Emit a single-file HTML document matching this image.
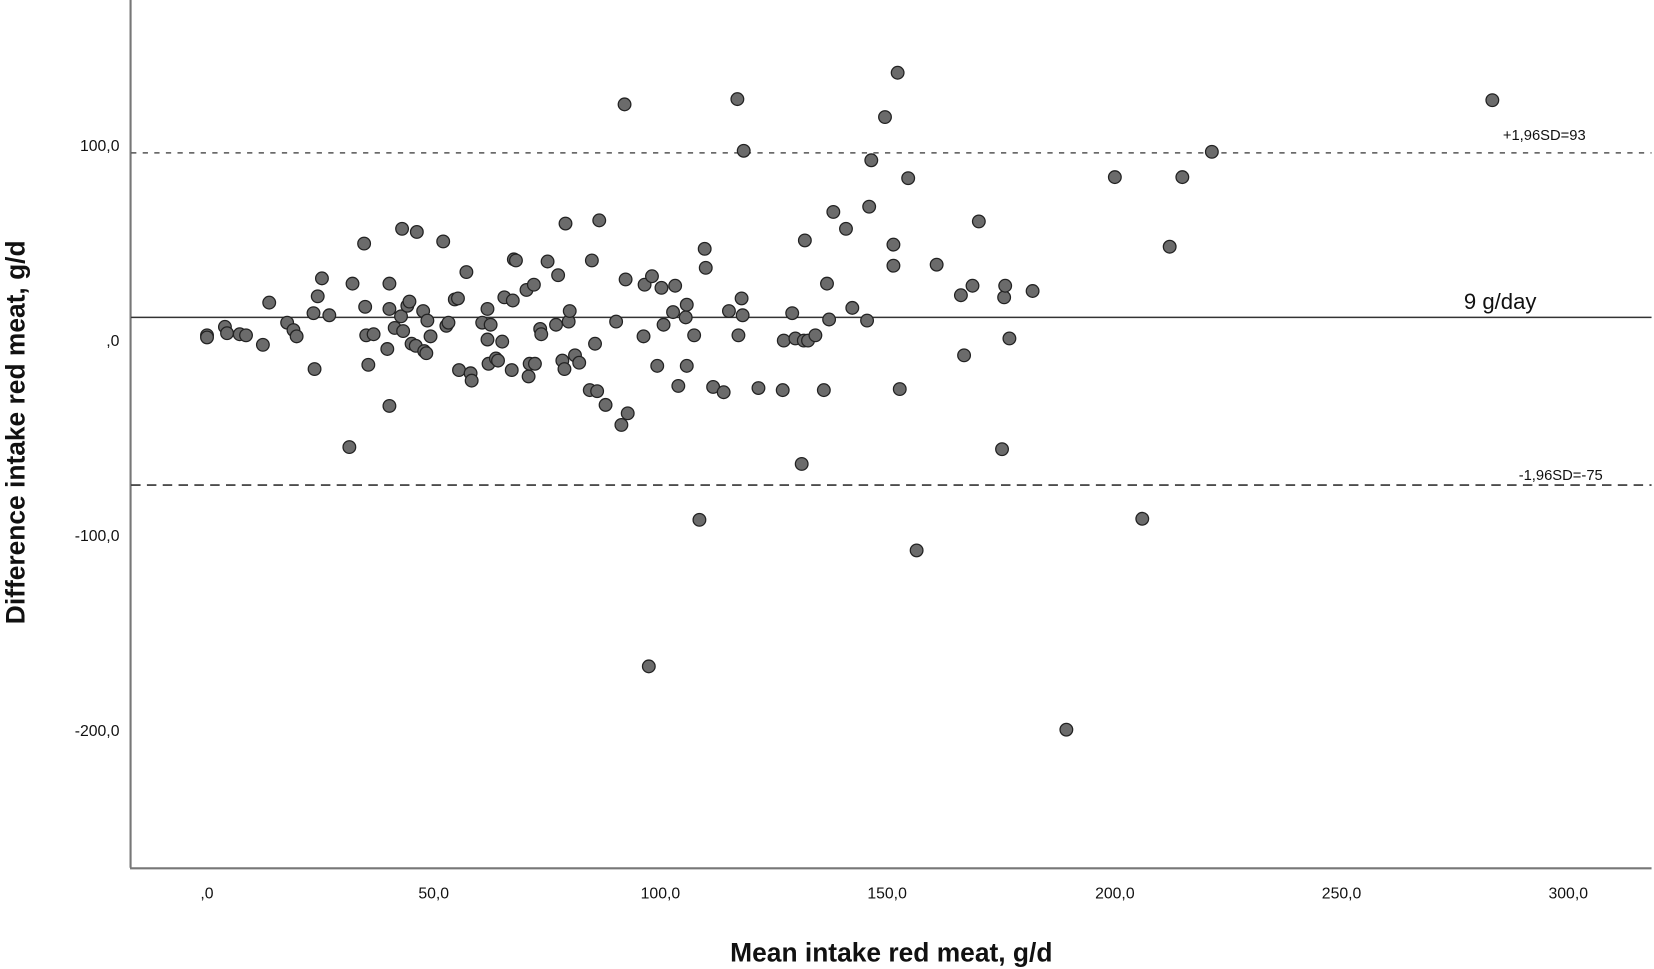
<!DOCTYPE html>
<html><head><meta charset="utf-8"><style>
html,body{margin:0;padding:0;background:#fff;}
svg{display:block;}
text{font-family:"Liberation Sans",Arial,sans-serif;fill:#111;}
</style></head><body>
<svg width="1654" height="969" viewBox="0 0 1568 919" xmlns="http://www.w3.org/2000/svg">
<rect width="1568" height="919" fill="#fff"/>
<line x1="123.5" y1="0" x2="123.5" y2="823" stroke="#777" stroke-width="2"/>
<line x1="123" y1="823.5" x2="1566" y2="823.5" stroke="#777" stroke-width="2"/>
<line x1="124" y1="145" x2="1566" y2="145" stroke="#555" stroke-width="1.5" stroke-dasharray="5,6"/>
<line x1="124" y1="301" x2="1566" y2="301" stroke="#333" stroke-width="1.5"/>
<line x1="124" y1="460" x2="1566" y2="460" stroke="#333" stroke-width="1.5" stroke-dasharray="9,6"/>
<text x="1425" y="133" font-size="14">+1,96SD=93</text>
<text x="1388" y="293" font-size="21">9 g/day</text>
<text x="1440" y="455" font-size="14">-1,96SD=-75</text>
<g font-size="15" text-anchor="end">
<text x="113" y="143">100,0</text>
<text x="113" y="328">,0</text>
<text x="113" y="513">-100,0</text>
<text x="113" y="698">-200,0</text>
</g>
<g font-size="15" text-anchor="middle">
<text x="196" y="852">,0</text>
<text x="411" y="852">50,0</text>
<text x="626" y="852">100,0</text>
<text x="841" y="852">150,0</text>
<text x="1057" y="852">200,0</text>
<text x="1272" y="852">250,0</text>
<text x="1487" y="852">300,0</text>
</g>
<text x="845" y="912" font-size="25" font-weight="bold" text-anchor="middle">Mean intake red meat, g/d</text>
<text transform="translate(23,410) rotate(-90)" font-size="25" font-weight="bold" text-anchor="middle">Difference intake red meat, g/d</text>
<g id="pts" fill="#6b6b6b" stroke="#222" stroke-width="1.2"></g>
</svg>
<script>
var xs=[[196,318],[196,320],[213,310],[215,316],[227,317],[233,318],[249,327],[255,287],[272,306],[278,313],[281,319],[297,297],[298,350],[301,281],[305,264],[312,299],[334,269],[331,424],[345,231],[346,291],[347,318],[349,346],[354,317],[367,331],[369,293],[369,269],[369,385],[374,311],[380,300],[381,217],[382,314],[386,290],[388,286],[390,326],[394,328],[395,220],[401,295],[402,333],[404,335],[405,304],[408,319],[420,229],[423,309],[425,306],[431,284],[434,283],[435,351],[442,258],[446,354],[447,361],[457,306],[462,293],[462,322],[463,345],[465,308],[470,340],[472,342],[476,324],[478,282],[485,351],[486,285],[487,246],[489,247],[499,275],[501,357],[502,345],[506,270],[507,345],[512,312],[513,317],[519,248],[527,308],[529,261],[533,342],[535,350],[536,212],[539,305],[540,295],[545,337],[549,344],[559,370],[561,247],[564,326],[568,209],[566,371],[574,384],[584,305],[589,403],[592,99],[593,265],[595,392],[610,319],[611,270],[615,632],[618,262],[623,347],[627,273],[629,308],[638,296],[640,271],[643,366],[650,301],[651,289],[651,347],[658,318],[663,493],[668,236],[669,254],[676,367],[686,372],[691,295],[699,94],[700,318],[703,283],[704,299],[705,143],[719,368],[742,370],[743,323],[751,297],[754,321],[760,440],[762,323],[763,228],[766,323],[773,318],[781,370],[784,269],[786,303],[790,201],[802,217],[808,292],[822,304],[824,196],[826,152],[839,111],[847,232],[847,252],[851,69],[853,369],[861,169],[869,522],[888,251],[911,280],[914,337],[922,271],[928,210],[950,426],[952,282],[953,271],[957,321],[979,276],[1011,692],[1057,168],[1083,492],[1109,234],[1121,168],[1149,144],[1415,95]];
var g=document.getElementById('pts'),h='';
xs.forEach(function(p){h+='<circle cx="'+p[0]+'" cy="'+p[1]+'" r="6"/>';});
g.innerHTML=h;
</script>
</body></html>
